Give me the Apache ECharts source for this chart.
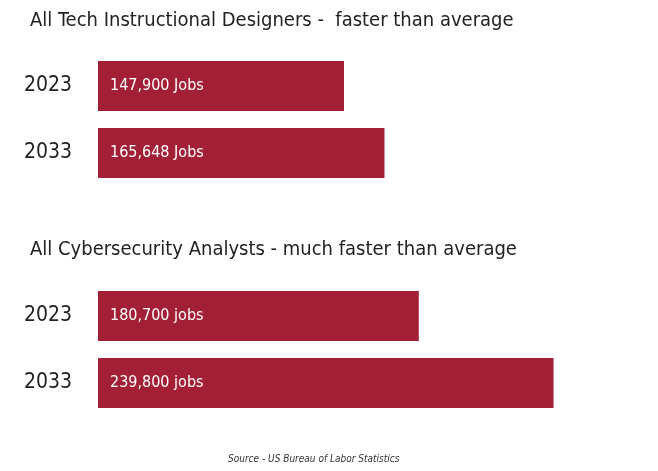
<!DOCTYPE html><html><head><meta charset="utf-8">
<script src="https://cdn.jsdelivr.net/npm/echarts@6/dist/echarts.min.js"></script>
<style>html,body{margin:0;background:#fff}#c{width:658px;height:471px}</style></head><body><div id="c"></div>
<script>
const years = ['2023','2033'];
const designerJobs = [147900, 165648];
const designerLabels = ['147,900 Jobs','165,648 Jobs'];
const cyberJobs = [180700, 239800];
const cyberLabels = ['180,700 jobs','239,800 jobs'];
const titles = ['All Tech Instructional Designers -  faster than average','All Cybersecurity Analysts - much faster than average'];
const source = 'Source - US Bureau of Labor Statistics';
const F = '"Liberation Sans Narrow","DejaVu Sans Condensed",sans-serif';
const color = '#a31f36';
const chart = echarts.init(document.getElementById('c'));
function xa(i){return {gridIndex:i,type:'value',min:40000,max:259300,show:false};}
function ya(i){return {gridIndex:i,type:'category',data:years,inverse:true,axisLine:{show:false},axisTick:{show:false},
  axisLabel:{fontFamily:F,fontSize:21,color:'#222',margin:26}};}
function s(i,vals,labels){return {type:'bar',xAxisIndex:i,yAxisIndex:i,data:vals,barWidth:50,itemStyle:{color},
  label:{show:true,position:'insideLeft',distance:12,color:'#fff',fontFamily:F,fontSize:16,formatter:p=>labels[p.dataIndex]}};}
chart.setOption({
  animation:false,
  title:[
    {text:titles[0],left:25,top:6,textStyle:{fontFamily:F,fontSize:20,fontWeight:'normal',color:'#222'}},
    {text:titles[1],left:25,top:235,textStyle:{fontFamily:F,fontSize:20,fontWeight:'normal',color:'#222'}},
    {text:source,left:223,bottom:2,textStyle:{fontFamily:F,fontSize:10,fontStyle:'italic',fontWeight:'normal',color:'#333'}}
  ],
  grid:[{left:98,top:52.5,width:500,height:134},{left:98,top:282.5,width:500,height:134}],
  xAxis:[xa(0),xa(1)], yAxis:[ya(0),ya(1)],
  series:[s(0,designerJobs,designerLabels),s(1,cyberJobs,cyberLabels)]
});
</script></body></html>
